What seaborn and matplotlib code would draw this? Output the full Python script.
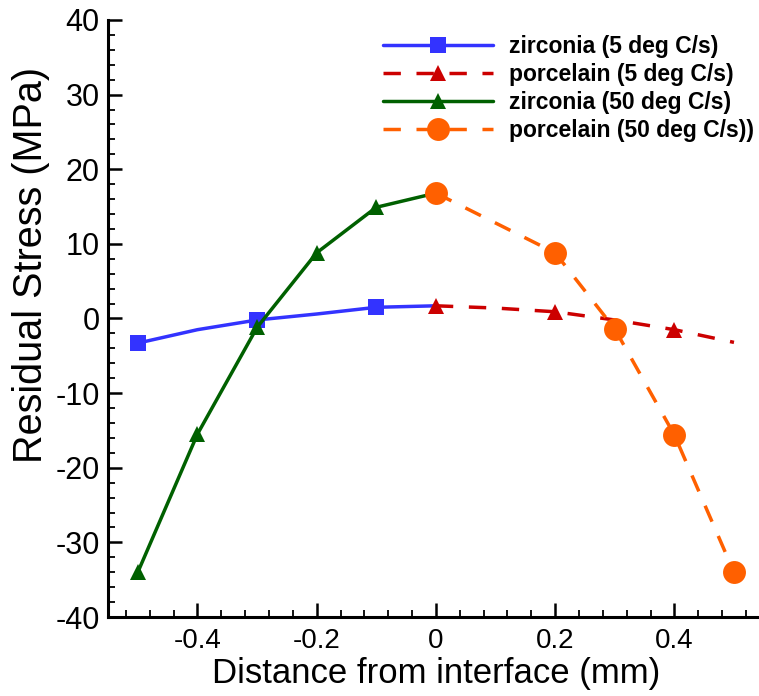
import matplotlib
matplotlib.use("Agg")
import matplotlib.pyplot as plt
import seaborn as sns
import pandas as pd
from matplotlib.ticker import MultipleLocator, FixedLocator

# ---- data ----
x_zirc = [-0.5, -0.4, -0.3, -0.2, -0.1, 0.0]
y_zirc5 = [-3.3, -1.5, -0.2, 0.6, 1.5, 1.7]
x_porc5 = [0.0, 0.1, 0.2, 0.3, 0.4, 0.5]
y_porc5 = [1.7, 1.4, 0.9, -0.2, -1.5, -3.2]
y_zirc50 = [-34.0, -15.5, -1.2, 8.8, 14.9, 16.8]
x_porc50 = [0.0, 0.2, 0.3, 0.4, 0.5]
y_porc50 = [16.8, 8.8, -1.4, -15.6, -34.0]

labels = ["zirconia (5 deg C/s)", "porcelain (5 deg C/s)",
          "zirconia (50 deg C/s)", "porcelain (50 deg C/s))"]
xticks = [-0.4, -0.2, 0.0, 0.2, 0.4]
xticklabels = ["-0.4", "-0.2", "0", "0.2", "0.4"]
yticks = [-40, -30, -20, -10, 0, 10, 20, 30, 40]
yticklabels = ["-40", "-30", "-20", "-10", "0", "10", "20", "30", "40"]

sns.set_theme(style="white")
plt.rcParams["font.family"] = ["Liberation Sans", "DejaVu Sans"]
plt.rcParams["axes.unicode_minus"] = False
plt.rcParams["text.color"] = "black"
plt.rcParams["axes.labelcolor"] = "black"

fig = plt.figure(figsize=(7.59, 6.96), dpi=100)
ax = fig.add_axes([0.1423, 0.1135, 0.864, 0.8578])

series = [
    (x_zirc, y_zirc5, "#3333ff", "s", 12, "-", 2),
    (x_porc5, y_porc5, "#cc0000", "^", 12, "--", 2),
    (x_zirc, y_zirc50, "#006000", "^", 12, "-", 1),
    (x_porc50, y_porc50, "#ff6000", "o", 16.5, "--", 1),
]
for (xs, ys, col, mk, ms, ls, me), lab in zip(series, labels):
    df = pd.DataFrame({"x": xs, "y": ys})
    sns.lineplot(data=df, x="x", y="y", ax=ax, color=col, marker=mk,
                 markersize=ms, markeredgewidth=0, linewidth=2.5,
                 markevery=me, label=lab, sort=False)
    line = ax.get_lines()[-1]
    if ls == "--":
        line.set_dashes((5, 4.5))

ax.set_xlim(-0.55, 0.55)
ax.set_ylim(-40, 40)
ax.xaxis.set_major_locator(FixedLocator(xticks))
ax.set_xticklabels(xticklabels)
ax.xaxis.set_minor_locator(MultipleLocator(0.04))
ax.yaxis.set_major_locator(FixedLocator(yticks))
ax.set_yticklabels(yticklabels)
ax.yaxis.set_minor_locator(MultipleLocator(2))

for s in ["top", "right"]:
    ax.spines[s].set_visible(False)
for s in ["left", "bottom"]:
    ax.spines[s].set_color("black")
    ax.spines[s].set_linewidth(2.2)

ax.tick_params(which="major", direction="in", length=10, width=1.8,
               colors="black", bottom=True, left=True)
ax.tick_params(axis="y", which="major", labelsize=22, pad=6)
ax.tick_params(axis="x", which="major", labelsize=20, pad=8)
ax.tick_params(which="minor", direction="in", length=5, width=1.3,
               colors="black", bottom=True, left=True)

ax.set_xlabel("Distance from interface (mm)", fontsize=25, labelpad=2,
              color="black")
ax.set_ylabel("Residual Stress (MPa)", fontsize=28.5, color="black")
ax.yaxis.set_label_coords(-0.088, 0.59)

leg = ax.legend(loc="upper left", bbox_to_anchor=(383 / 759, 1 - 35 / 696),
                bbox_transform=fig.transFigure, frameon=False,
                handlelength=4.8, handletextpad=0.68, labelspacing=0.22,
                borderpad=0, borderaxespad=0,
                prop={"size": 16.5, "weight": "bold"})
for t in leg.get_texts():
    t.set_color("black")

fig.savefig("out.png", dpi=100)
